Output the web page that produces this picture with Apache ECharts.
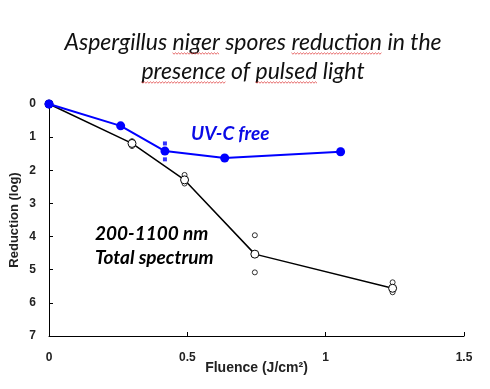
<!DOCTYPE html>
<html>
<head>
<meta charset="utf-8">
<script src="https://cdn.jsdelivr.net/npm/echarts@6/dist/echarts.min.js"></script>
<style>html,body{margin:0;padding:0;background:#fff}#c{width:490px;height:389px}</style>
</head>
<body>
<div id="c"></div>
<script>
// Total spectrum (200-1100 nm) means
const fluenceTotal = [0, 0.30, 0.49, 0.744, 1.242];
const reductionTotal = [0, 1.19, 2.29, 4.53, 5.56];
// Total spectrum replicates
const totalRepX = [0.30, 0.30, 0.49, 0.49, 0.744, 0.744, 1.242, 1.242];
const totalRepY = [1.12, 1.27, 2.14, 2.40, 3.96, 5.08, 5.38, 5.68];
// UV-C free means
const fluenceUV = [0, 0.259, 0.419, 0.635, 1.054];
const reductionUV = [0, 0.66, 1.42, 1.63, 1.44];
// UV-C free replicates
const uvRepX = [0.419, 0.419, 1.054, 1.054];
const uvRepY = [1.19, 1.67, 1.38, 1.50];
const xTicks = [0, 0.5, 1, 1.5];
const yTicks = [0, 1, 2, 3, 4, 5, 6, 7];
const titleLines = ['Aspergillus niger spores reduction in the', 'presence of pulsed light'];
const spellWords = [[0, 'Aspergillus ', 'niger'], [0, 'Aspergillus niger spores ', 'reduction'], [1, '', 'presence'], [1, 'presence of ', 'pulsed']];

const zip = (a, b) => a.map((v, i) => [v, b[i]]);
const chart = echarts.init(document.getElementById('c'));
const lab = {fontFamily: 'Liberation Sans', fontWeight: 'bold', fontSize: 12, color: '#222'};

// wavy spell-check underlines under title words
const titleFont = 'italic 23px Lato';
const titleCx = 253, lineBase = [53, 82];
const ctx = document.createElement('canvas').getContext('2d');
ctx.font = titleFont;
const waves = spellWords.map(([li, pre, w]) => {
  const lw = ctx.measureText(titleLines[li]).width;
  const x0 = titleCx - lw / 2 + ctx.measureText(pre).width;
  const x1 = x0 + ctx.measureText(w).width;
  const pts = [];
  let k = 0;
  for (let x = x0; x <= x1; x += 1.5, k++) pts.push([x, lineBase[li] + (k % 2 ? 1.2 : -0.2)]);
  return {type: 'polyline', silent: true, shape: {points: pts}, style: {stroke: '#e04040', lineWidth: 0.8, fill: null}, z: 10};
});

chart.setOption({
  animation: false,
  backgroundColor: '#fff',
  grid: {left: 49, right: 26, top: 104, bottom: 53, containLabel: false, outerBoundsMode: 'none'},
  xAxis: {
    type: 'value', min: 0, max: 1.5, interval: 0.5,
    name: 'Fluence (J/cm²)', nameLocation: 'middle', nameGap: 25, nameMoveOverlap: false,
    nameTextStyle: Object.assign({}, lab, {fontSize: 14}),
    axisLine: {onZero: false, lineStyle: {color: '#000', width: 1}},
    axisTick: {inside: true, length: 4, lineStyle: {color: '#000'}},
    axisLabel: Object.assign({}, lab, {margin: 16, formatter: v => xTicks.includes(v) ? String(v) : ''}),
    splitLine: {show: false}
  },
  yAxis: {
    type: 'value', min: 0, max: 7, interval: 1, inverse: true,
    name: 'Reduction (log)', nameLocation: 'middle', nameGap: 28, nameMoveOverlap: false,
    nameTextStyle: Object.assign({}, lab, {fontSize: 13}),
    axisLine: {show: true, onZero: false, lineStyle: {color: '#000', width: 1}},
    axisTick: {show: true, inside: true, length: 4, lineStyle: {color: '#000'}},
    axisLabel: Object.assign({}, lab, {margin: 13, formatter: v => yTicks.includes(v) ? String(v) : ''}),
    splitLine: {show: false}
  },
  series: [
    {
      type: 'scatter', data: zip(totalRepX, totalRepY), symbol: 'circle', symbolSize: 5,
      itemStyle: {color: '#fff', borderColor: '#000', borderWidth: 1}, z: 3
    },
    {
      type: 'line', data: zip(fluenceTotal, reductionTotal), symbol: 'circle', symbolSize: 8,
      lineStyle: {color: '#000', width: 1.5},
      itemStyle: {color: '#fff', borderColor: '#000', borderWidth: 1}, z: 4
    },
    {
      type: 'scatter', data: zip(uvRepX, uvRepY), symbol: 'rect', symbolSize: 4,
      itemStyle: {color: '#0000ff'}, z: 5
    },
    {
      type: 'line', data: zip(fluenceUV, reductionUV), symbol: 'circle', symbolSize: 9,
      lineStyle: {color: '#0000ff', width: 2},
      itemStyle: {color: '#0000ff'}, z: 6
    }
  ],
  graphic: [
    {type: 'text', x: titleCx, y: 43, style: {text: titleLines[0], fill: '#111', font: titleFont, align: 'center', verticalAlign: 'middle'}},
    {type: 'text', x: titleCx, y: 72, style: {text: titleLines[1], fill: '#111', font: titleFont, align: 'center', verticalAlign: 'middle'}},
    {type: 'text', left: 191, top: 124, style: {text: 'UV-C free', fill: '#0a0ae6', font: 'italic bold 19px Lato'}},
    {type: 'text', left: 95, top: 224, style: {text: '200-1100 nm', fill: '#000', font: 'italic bold 19px Lato'}},
    {type: 'text', left: 95, top: 248, style: {text: 'Total spectrum', fill: '#000', font: 'italic bold 19px Lato'}}
  ].concat(waves)
});
</script>
</body>
</html>
